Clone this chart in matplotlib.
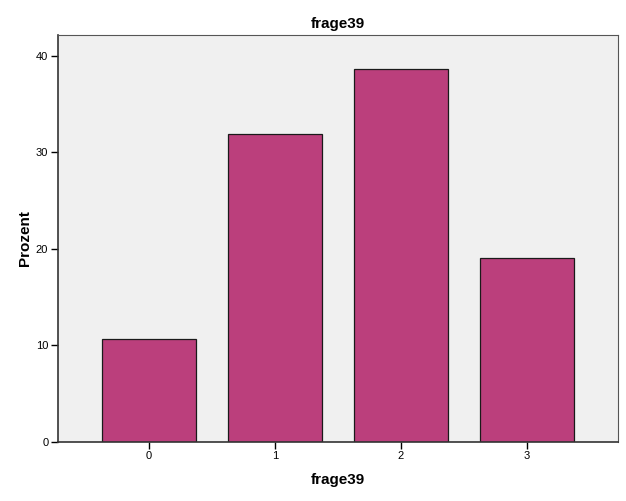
import matplotlib
matplotlib.use("Agg")
import matplotlib.pyplot as plt

# Data
categories = ["0", "1", "2", "3"]
percent = [10.6, 31.9, 38.6, 19.0]

plt.rcParams['font.family'] = ['Liberation Sans', 'DejaVu Sans']

fig = plt.figure(figsize=(6.26, 5.01), dpi=100)
ax = fig.add_axes([0.0927, 0.1184, 0.894, 0.8126])
ax.set_facecolor('#f0f0f0')

x = list(range(len(categories)))
ax.bar(x, percent, width=0.75, color='#bb3f7c', edgecolor='#1a1a1a', linewidth=0.9, zorder=2)

ax.set_xlim(-0.72, 3.72)
ax.set_ylim(0, 42.2)
ax.set_xticks(x)
ax.set_xticklabels(categories)
ax.set_yticks([0, 10, 20, 30, 40])

for side in ['left', 'bottom']:
    ax.spines[side].set_color('#333333')
    ax.spines[side].set_linewidth(1.2)
for side in ['top', 'right']:
    ax.spines[side].set_color('#555555')
    ax.spines[side].set_linewidth(0.8)

ax.tick_params(axis='both', direction='out', length=5, width=1, colors='black', labelsize=8, pad=2)

ax.set_title('frage39', fontsize=11, fontweight='bold', pad=5)
ax.set_xlabel('frage39', fontsize=11, fontweight='bold', labelpad=8)
ax.set_ylabel('Prozent', fontsize=11, fontweight='bold', labelpad=3)

fig.savefig('out.png', dpi=100, facecolor='white')
